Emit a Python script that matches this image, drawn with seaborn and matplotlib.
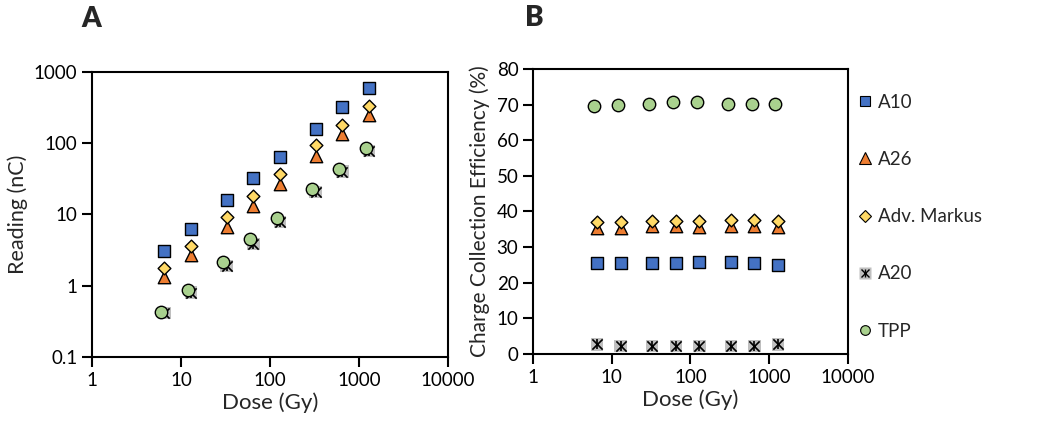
import numpy as np
import matplotlib.pyplot as plt
import seaborn as sns
from matplotlib.lines import Line2D

sns.set_style('ticks')
plt.rcParams['font.family'] = ['Lato', 'DejaVu Sans']

# doses (Gy); TPP was measured at slightly lower doses
dose = [6.5, 13, 32.5, 65, 130, 325, 650, 1300]
dose_tpp = [6, 12, 30, 60, 120, 300, 600, 1200]

# Panel A - readings (nC)
read_a10 = [3.1, 6.3, 16, 32, 64, 158, 320, 590]
read_a26 = [1.34, 2.7, 6.75, 13.3, 26.5, 67, 134, 249]
read_markus = [1.79, 3.6, 9.1, 18.4, 37, 93.6, 180, 333]
read_a20 = [0.41, 0.80, 1.89, 3.86, 7.9, 20.5, 39.9, 77.8]
read_tpp = [0.43, 0.87, 2.18, 4.5, 8.85, 22.8, 43.5, 85]

# Panel B - charge collection efficiency (%)
cce_a10 = [25.5, 25.5, 25.5, 25.5, 25.8, 25.8, 25.5, 25.0]
cce_a26 = [35.3, 35.3, 35.8, 35.8, 35.6, 35.8, 36.0, 35.6]
cce_markus = [37.0, 37.0, 37.2, 37.2, 37.2, 37.7, 37.7, 37.2]
cce_a20 = [2.7, 2.2, 2.2, 2.2, 2.2, 2.2, 2.2, 2.7]
cce_tpp = [69.5, 69.9, 70.2, 70.6, 70.6, 70.2, 70.2, 70.2]

labels = ['A10', 'A26', 'Adv. Markus', 'A20', 'TPP']
c_blue, c_orange, c_yellow, c_gray, c_green = '#4472C4', '#ED7D31', '#FFD966', '#BFBFBF', '#A9D18E'


def draw_series(ax, a10, a26, markus, a20, tpp):
    kw = dict(edgecolor='black', linewidth=1, ax=ax, zorder=3, legend=False)
    # A20: gray square with asterisk
    sns.scatterplot(x=dose, y=a20, marker='s', s=80, color=c_gray, edgecolor='none', ax=ax, zorder=2, legend=False)
    sns.scatterplot(x=dose, y=a20, marker='x', s=55, color='black', linewidth=1.2, ax=ax, zorder=2, legend=False)
    sns.scatterplot(x=dose, y=a20, marker='|', s=45, color='black', linewidth=1.2, ax=ax, zorder=2, legend=False)
    sns.scatterplot(x=dose_tpp, y=tpp, marker='o', s=80, color=c_green, **kw)
    sns.scatterplot(x=dose, y=a26, marker='^', s=80, color=c_orange, **kw)
    sns.scatterplot(x=dose, y=markus, marker='D', s=42, color=c_yellow, **kw)
    sns.scatterplot(x=dose, y=a10, marker='s', s=70, color=c_blue, **kw)


def style_axis(ax):
    ax.set_xscale('log')
    ax.set_xlim(1, 10000)
    ax.set_xticks([1, 10, 100, 1000, 10000])
    ax.set_xticklabels(['1', '10', '100', '1000', '10000'])
    ax.minorticks_off()
    ax.set_xlabel('Dose (Gy)', fontsize=16, labelpad=3)
    for sp in ax.spines.values():
        sp.set_visible(True)
        sp.set_linewidth(1.5)
        sp.set_color('black')
    ax.tick_params(axis='both', which='major', length=7, width=1.5, labelsize=13.5, colors='black')


fig = plt.figure(figsize=(10.5, 4.28), dpi=100)
ax_a = fig.add_axes([0.0876, 0.166, 0.339, 0.666])
ax_b = fig.add_axes([0.5076, 0.173, 0.300, 0.666])

# Panel A
draw_series(ax_a, read_a10, read_a26, read_markus, read_a20, read_tpp)
style_axis(ax_a)
ax_a.set_yscale('log')
ax_a.set_ylim(0.1, 1000)
ax_a.set_yticks([0.1, 1, 10, 100, 1000])
ax_a.set_yticklabels(['0.1', '1', '10', '100', '1000'])
ax_a.minorticks_off()
ax_a.set_ylabel('Reading (nC)', fontsize=15.5, labelpad=4)

# Panel B
draw_series(ax_b, cce_a10, cce_a26, cce_markus, cce_a20, cce_tpp)
style_axis(ax_b)
ax_b.set_ylim(0, 80)
ax_b.set_yticks(range(0, 81, 10))
ax_b.set_ylabel('Charge Collection Efficiency (%)', fontsize=15, labelpad=5)

# legend
h_a10 = Line2D([], [], ls='none', marker='s', ms=7, mfc=c_blue, mec='black', mew=0.8)
h_a26 = Line2D([], [], ls='none', marker='^', ms=8, mfc=c_orange, mec='black', mew=0.8)
h_mk = Line2D([], [], ls='none', marker='D', ms=6, mfc=c_yellow, mec='black', mew=0.8)
h_a20 = (Line2D([], [], ls='none', marker='s', ms=8, mfc=c_gray, mec='none'),
         Line2D([], [], ls='none', marker='x', ms=6, mec='black', mew=1),
         Line2D([], [], ls='none', marker='|', ms=6, mec='black', mew=1))
h_tpp = Line2D([], [], ls='none', marker='o', ms=7, mfc=c_green, mec='black', mew=0.8)
ax_b.legend([h_a10, h_a26, h_mk, h_a20, h_tpp], labels, loc='upper left',
            bbox_to_anchor=(1.005, 0.94), frameon=False, fontsize=13.5,
            labelspacing=2.15, handlelength=0.8, handletextpad=0.3, borderaxespad=0)

fig.text(0.087, 0.955, 'A', fontsize=20, fontweight='heavy', ha='center', va='center')
fig.text(0.509, 0.958, 'B', fontsize=20, fontweight='heavy', ha='center', va='center')

fig.savefig('out.png', dpi=100)
